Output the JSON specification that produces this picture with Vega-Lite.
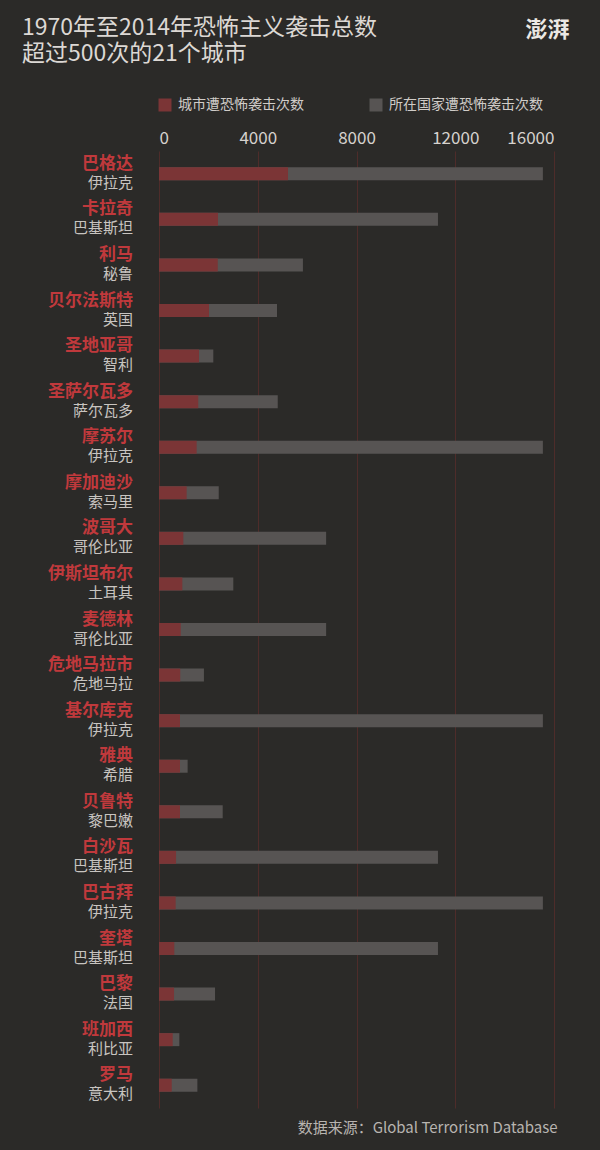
{
  "$schema": "https://vega.github.io/schema/vega-lite/v6.json",
  "width": 395,
  "height": 957,
  "autosize": {"type": "none"},
  "padding": {"left": 159, "top": 151, "right": 46, "bottom": 42},
  "background": "#2b2a28",
  "title": {
    "text": ["1970年至2014年恐怖主义袭击总数", "超过500次的21个城市"],
    "anchor": "start",
    "frame": "group",
    "dx": -137,
    "dy": 58,
    "font": "Noto Sans CJK SC",
    "fontSize": 23,
    "fontWeight": "normal",
    "lineHeight": 26,
    "color": "#dcd8d4",
    "offset": 10
  },
  "config": {
    "view": {"stroke": null},
    "font": "Noto Sans CJK SC"
  },
  "data": {
    "values": [
      {"city": "巴格达", "country": "伊拉克", "city_n": 5225, "country_n": 15550},
      {"city": "卡拉奇", "country": "巴基斯坦", "city_n": 2390, "country_n": 11300},
      {"city": "利马", "country": "秘鲁", "city_n": 2380, "country_n": 5830},
      {"city": "贝尔法斯特", "country": "英国", "city_n": 2025, "country_n": 4780},
      {"city": "圣地亚哥", "country": "智利", "city_n": 1620, "country_n": 2200},
      {"city": "圣萨尔瓦多", "country": "萨尔瓦多", "city_n": 1590, "country_n": 4810},
      {"city": "摩苏尔", "country": "伊拉克", "city_n": 1525, "country_n": 15550},
      {"city": "摩加迪沙", "country": "索马里", "city_n": 1120, "country_n": 2420},
      {"city": "波哥大", "country": "哥伦比亚", "city_n": 985, "country_n": 6770},
      {"city": "伊斯坦布尔", "country": "土耳其", "city_n": 945, "country_n": 3010},
      {"city": "麦德林", "country": "哥伦比亚", "city_n": 880, "country_n": 6770},
      {"city": "危地马拉市", "country": "危地马拉", "city_n": 860, "country_n": 1820},
      {"city": "基尔库克", "country": "伊拉克", "city_n": 850, "country_n": 15550},
      {"city": "雅典", "country": "希腊", "city_n": 850, "country_n": 1160},
      {"city": "贝鲁特", "country": "黎巴嫩", "city_n": 850, "country_n": 2580},
      {"city": "白沙瓦", "country": "巴基斯坦", "city_n": 690, "country_n": 11300},
      {"city": "巴古拜", "country": "伊拉克", "city_n": 675, "country_n": 15550},
      {"city": "奎塔", "country": "巴基斯坦", "city_n": 620, "country_n": 11300},
      {"city": "巴黎", "country": "法国", "city_n": 610, "country_n": 2270},
      {"city": "班加西", "country": "利比亚", "city_n": 555, "country_n": 825},
      {"city": "罗马", "country": "意大利", "city_n": 515, "country_n": 1555}
    ]
  },
  "encoding": {
    "y": {
      "field": "city",
      "type": "nominal",
      "sort": null,
      "scale": {"paddingInner": 0, "paddingOuter": 0},
      "axis": {
        "labels": false,
        "ticks": false,
        "domain": false,
        "title": "数据来源：Global Terrorism Database",
        "titleAngle": 0,
        "titleX": 398,
        "titleY": 976,
        "titleAlign": "right",
        "titleBaseline": "middle",
        "titleFont": "Noto Sans CJK SC",
        "titleFontSize": 15,
        "titleFontWeight": "normal",
        "titleColor": "#b8b4b0"
      }
    }
  },
  "layer": [
    {
      "mark": {"type": "bar", "height": 13},
      "encoding": {
        "x": {
          "field": "country_n",
          "type": "quantitative",
          "scale": {"domain": [0, 16000], "nice": false},
          "axis": {
            "orient": "top",
            "values": [0, 4000, 8000, 12000, 16000],
            "format": "d",
            "labelFont": "Noto Sans CJK SC",
            "labelFontSize": 17,
            "labelColor": "#d6d2ce",
            "labelPadding": 4,
            "ticks": false,
            "domain": false,
            "grid": true,
            "gridColor": "#4e2c2a",
            "gridWidth": 1,
            "title": "澎湃",
            "titleX": 388,
            "titleY": -122,
            "titleAlign": "center",
            "titleBaseline": "middle",
            "titleFont": "Noto Sans CJK SC",
            "titleFontSize": 22,
            "titleFontWeight": "bold",
            "titleColor": "#ece8e4"
          }
        },
        "color": {
          "datum": "所在国家遭恐怖袭击次数",
          "type": "nominal",
          "scale": {
            "domain": ["城市遭恐怖袭击次数", "所在国家遭恐怖袭击次数"],
            "range": ["#7b3536", "#575453"]
          },
          "legend": {
            "orient": "none",
            "legendX": -1,
            "legendY": -53,
            "direction": "horizontal",
            "title": null,
            "symbolType": "square",
            "symbolSize": 169,
            "symbolStrokeWidth": 0,
            "labelFont": "Noto Sans CJK SC",
            "labelFontSize": 14,
            "labelColor": "#d0ccc8",
            "labelOffset": 6,
            "columnPadding": 65,
            "padding": 0
          }
        }
      }
    },
    {
      "mark": {"type": "bar", "height": 13},
      "encoding": {
        "x": {"field": "city_n", "type": "quantitative"},
        "color": {"datum": "城市遭恐怖袭击次数", "type": "nominal"}
      }
    },
    {
      "mark": {
        "type": "text",
        "align": "right",
        "baseline": "middle",
        "dx": -26,
        "dy": -10,
        "font": "Noto Sans CJK SC",
        "fontSize": 17,
        "fontWeight": "bold",
        "color": "#c0393c"
      },
      "encoding": {
        "x": {"datum": 0, "type": "quantitative"},
        "text": {"field": "city"}
      }
    },
    {
      "mark": {
        "type": "text",
        "align": "right",
        "baseline": "middle",
        "dx": -26,
        "dy": 9,
        "font": "Noto Sans CJK SC",
        "fontSize": 15,
        "color": "#c8c4c0"
      },
      "encoding": {
        "x": {"datum": 0, "type": "quantitative"},
        "text": {"field": "country"}
      }
    }
  ]
}
